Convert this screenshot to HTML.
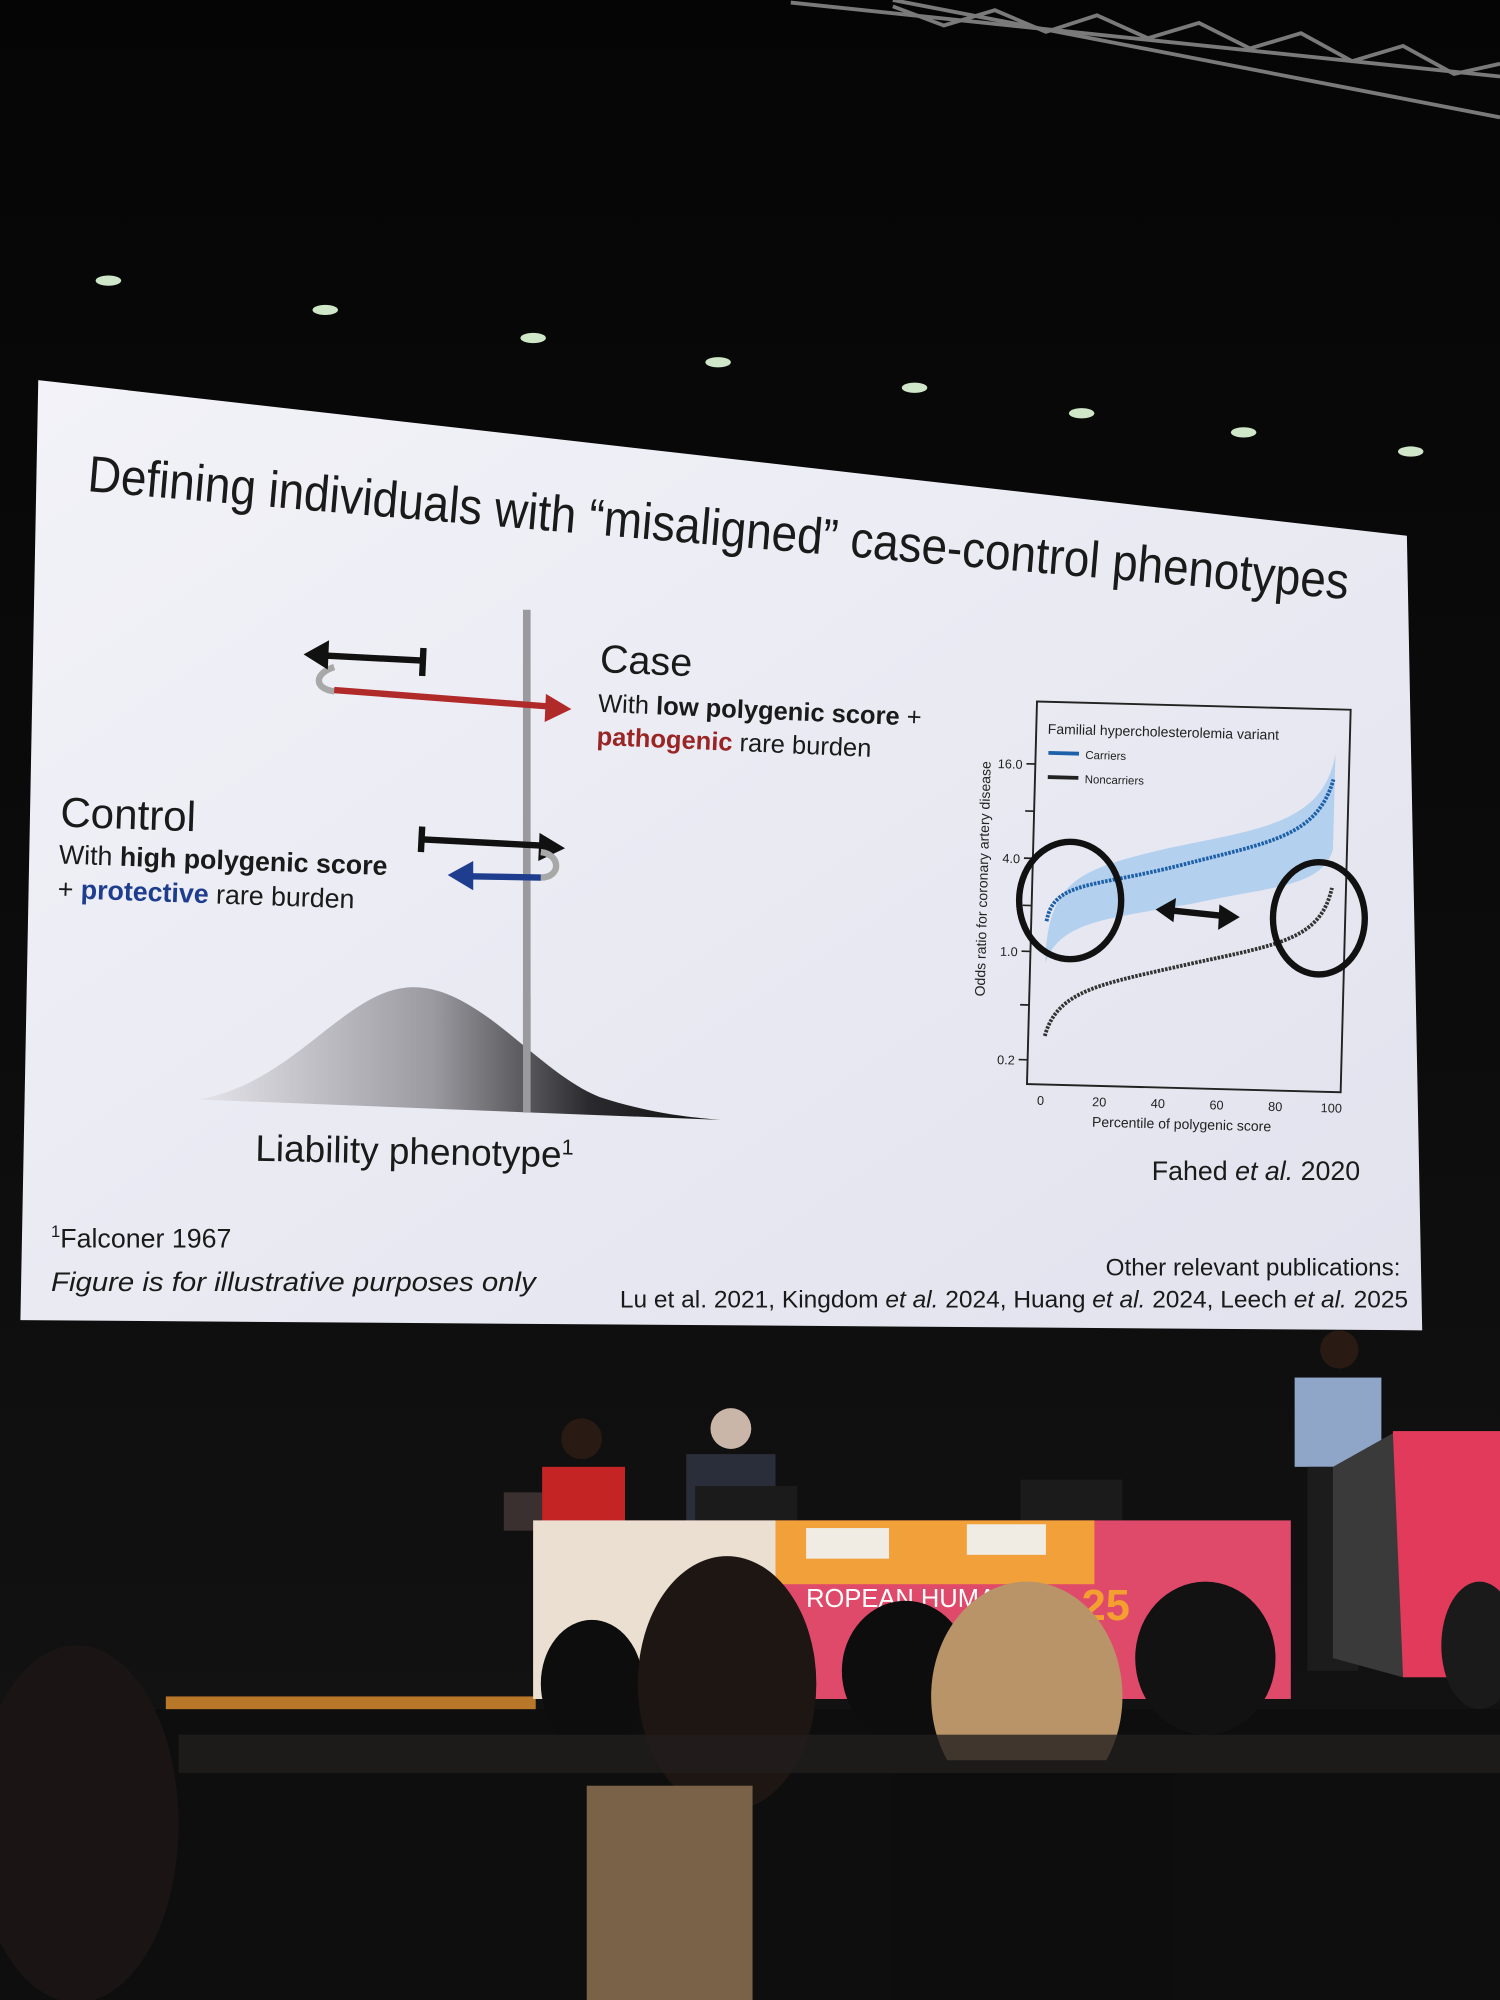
<!DOCTYPE html>
<html><head><meta charset="utf-8"><style>
html,body{margin:0;padding:0;background:#070707;}
svg{display:block;}
text{font-family:"Liberation Sans",sans-serif;}
</style></head><body>
<svg width="1500" height="2000" viewBox="0 0 1176 1568" preserveAspectRatio="none" xmlns="http://www.w3.org/2000/svg">
<defs>
<linearGradient id="bell" x1="0" x2="1" y1="0" y2="0">
<stop offset="0" stop-color="#e4e4ea"/><stop offset="0.45" stop-color="#9a9aa0"/><stop offset="0.75" stop-color="#2a2a2e"/><stop offset="1" stop-color="#111"/></linearGradient>
<linearGradient id="slide" x1="0" x2="1" y1="0" y2="1">
<stop offset="0" stop-color="#f2f2f8"/><stop offset="1" stop-color="#e2e2ee"/></linearGradient>
<linearGradient id="bg" x1="0" x2="0" y1="0" y2="1">
<stop offset="0" stop-color="#050505"/><stop offset="0.5" stop-color="#0c0c0c"/><stop offset="1" stop-color="#141414"/></linearGradient>
</defs>
<rect width="1176" height="1568" fill="url(#bg)"/>
<g stroke="#7a7a7a" stroke-width="3" fill="none">
<line x1="620" y1="2" x2="1176" y2="60"/><line x1="700" y1="0" x2="1176" y2="92"/>
<path d="M700 5 L740 20 L780 8 L820 25 L860 12 L900 30 L940 18 L980 38 L1020 26 L1060 48 L1100 36 L1140 58 L1176 50"/>
</g>
<g fill="#cfe6c8">
<ellipse cx="85" cy="220" rx="10" ry="4"/><ellipse cx="255" cy="243" rx="10" ry="4"/><ellipse cx="418" cy="265" rx="10" ry="4"/><ellipse cx="563" cy="284" rx="10" ry="4"/><ellipse cx="717" cy="304" rx="10" ry="4"/><ellipse cx="848" cy="324" rx="10" ry="4"/><ellipse cx="975" cy="339" rx="10" ry="4"/><ellipse cx="1106" cy="354" rx="10" ry="4"/>
</g>
<polygon points="30,298 1103,420 1115,1043 16,1035" fill="url(#slide)"/>
<text x="68" y="385" font-size="40" fill="#1a1a1a" transform="rotate(4.9 68 385)" textLength="992" lengthAdjust="spacingAndGlyphs">Defining individuals with “misaligned” case-control phenotypes</text>
<line x1="413" y1="478" x2="413" y2="872" stroke="#9a9a9e" stroke-width="6"/>
<path d="M155 862 C230 850 270 776 322 774 C375 772 420 840 470 860 C510 873 540 876 565 878 Z" fill="url(#bell)"/>
<line x1="413" y1="780" x2="413" y2="872" stroke="#9a9a9e" stroke-width="6"/>
<path d="M262 523 C246 528 246 540 262 542" stroke="#a8a8a8" stroke-width="5" fill="none"/>
<line x1="262" y1="541" x2="432" y2="554" stroke="#b02a2a" stroke-width="5"/>
<polygon points="448,556 428,544 427,566" fill="#b02a2a"/>
<line x1="255" y1="514" x2="333" y2="518" stroke="#111" stroke-width="5"/>
<polygon points="238,513 258,502 257,525" fill="#111"/>
<line x1="332" y1="508" x2="331" y2="530" stroke="#111" stroke-width="5"/>
<line x1="330" y1="658" x2="426" y2="663" stroke="#111" stroke-width="5"/>
<polygon points="443,665 423,653 422,675" fill="#111"/>
<line x1="331" y1="648" x2="330" y2="668" stroke="#111" stroke-width="5"/>
<path d="M424 668 C440 670 440 688 424 688" stroke="#a8a8a8" stroke-width="5" fill="none"/>
<line x1="368" y1="687" x2="424" y2="688" stroke="#1e3d8f" stroke-width="5"/>
<polygon points="351,686 371,675 371,698" fill="#1e3d8f"/>
<g transform="rotate(2.5 470 527)">
<text x="470" y="527" font-size="31" fill="#1a1a1a">Case</text>
<text x="470" y="558" font-size="20" fill="#1a1a1a">With <tspan font-weight="bold">low polygenic score</tspan> +</text>
<text x="470" y="584" font-size="20" fill="#1a1a1a"><tspan font-weight="bold" fill="#9a2525">pathogenic</tspan> rare burden</text>
</g>
<g transform="rotate(2 47 648)">
<text x="47" y="648" font-size="33" fill="#1a1a1a">Control</text>
<text x="47" y="677" font-size="21" fill="#1a1a1a">With <tspan font-weight="bold">high polygenic score</tspan></text>
<text x="47" y="704" font-size="21" fill="#1a1a1a">+ <tspan font-weight="bold" fill="#1e3d8f">protective</tspan> rare burden</text>
</g>
<text x="200" y="910" font-size="29" fill="#1a1a1a" transform="rotate(1.2 200 910)">Liability phenotype<tspan font-size="17" dy="-10">1</tspan></text>
<g transform="rotate(1.5 813 550)">
<rect x="813" y="550" width="246" height="300" fill="none" stroke="#222" stroke-width="1.5"/>
<path d="M825 745 C828 690 850 680 920 662 C990 645 1040 640 1048 585 L1048 660 C1040 690 1000 690 940 705 C880 718 835 720 825 755 Z" fill="#a9cdee" opacity="0.85"/>
<path d="M825 722 C830 690 860 695 930 675 C1000 655 1035 650 1047 605" stroke="#1d5fa8" stroke-width="3" fill="none" stroke-dasharray="2 1"/>
<path d="M826 812 C835 775 870 770 940 752 C1010 735 1040 730 1048 690" stroke="#333" stroke-width="3" fill="none" stroke-dasharray="2 1"/>
<text x="822" y="575" font-size="11" fill="#222">Familial hypercholesterolemia variant</text>
<line x1="823" y1="590" x2="847" y2="590" stroke="#1d5fa8" stroke-width="3"/><text x="852" y="594" font-size="9" fill="#222">Carriers</text>
<line x1="823" y1="609" x2="847" y2="609" stroke="#222" stroke-width="3"/><text x="852" y="613" font-size="9" fill="#222">Noncarriers</text>
<g font-size="10" fill="#222" text-anchor="end">
<text x="803" y="603">16.0</text><text x="803" y="677">4.0</text><text x="803" y="750">1.0</text><text x="803" y="835">0.2</text></g>
<g stroke="#222" stroke-width="1.3"><line x1="806" y1="599" x2="813" y2="599"/><line x1="806" y1="636" x2="813" y2="636"/><line x1="806" y1="673" x2="813" y2="673"/><line x1="806" y1="710" x2="813" y2="710"/><line x1="806" y1="746" x2="813" y2="746"/><line x1="806" y1="788" x2="813" y2="788"/><line x1="806" y1="831" x2="813" y2="831"/></g>
<g font-size="10" fill="#222" text-anchor="middle"><text x="824" y="866">0</text><text x="870" y="866">20</text><text x="916" y="866">40</text><text x="962" y="866">60</text><text x="1008" y="866">80</text><text x="1052" y="866">100</text></g>
<text x="935" y="882" font-size="11" fill="#222" text-anchor="middle">Percentile of polygenic score</text>
<text x="778" y="690" font-size="11" fill="#222" text-anchor="middle" transform="rotate(-90 778 690)">Odds ratio for coronary artery disease</text>
</g>
<ellipse cx="839" cy="706" rx="40" ry="46" fill="none" stroke="#111" stroke-width="5"/>
<ellipse cx="1034" cy="720" rx="36" ry="44" fill="none" stroke="#111" stroke-width="5"/>
<line x1="920" y1="714" x2="958" y2="718" stroke="#111" stroke-width="5"/>
<polygon points="906,713 922,704 920,723" fill="#111"/><polygon points="972,719 956,709 955,729" fill="#111"/>
<text x="903" y="925" font-size="21" fill="#1a1a1a">Fahed <tspan font-style="italic">et al.</tspan> 2020</text>
<text x="40" y="978" font-size="21" fill="#1a1a1a"><tspan font-size="13" dy="-8">1</tspan><tspan dy="8">Falconer 1967</tspan></text>
<text x="40" y="1012" font-size="21" fill="#1a1a1a" font-style="italic" textLength="380" lengthAdjust="spacingAndGlyphs">Figure is for illustrative purposes only</text>
<text x="1098" y="1000" font-size="19" fill="#1a1a1a" text-anchor="end">Other relevant publications:</text>
<text x="1104" y="1025" font-size="19" fill="#1a1a1a" text-anchor="end" textLength="618" lengthAdjust="spacingAndGlyphs">Lu et al. 2021, Kingdom <tspan font-style="italic">et al.</tspan> 2024, Huang <tspan font-style="italic">et al.</tspan> 2024, Leech <tspan font-style="italic">et al.</tspan> 2025</text>
<rect x="130" y="1330" width="290" height="12" fill="#b9772a"/>
<rect x="0" y="1340" width="1176" height="228" fill="#0e0e0e"/>
<rect x="395" y="1170" width="30" height="30" fill="#3a3030"/>
<rect x="425" y="1150" width="65" height="52" fill="#c42424"/>
<circle cx="456" cy="1128" r="16" fill="#2a1a14"/>
<rect x="538" y="1140" width="70" height="60" fill="#2a2e3a"/>
<circle cx="573" cy="1120" r="16" fill="#c9b6a8"/>
<rect x="545" y="1165" width="80" height="35" fill="#1b1b1b"/>
<rect x="800" y="1160" width="80" height="35" fill="#1b1b1b"/>
<rect x="418" y="1192" width="594" height="140" fill="#e04a6a"/>
<rect x="418" y="1192" width="190" height="140" fill="#eadfd0"/>
<rect x="608" y="1192" width="250" height="50" fill="#f2a03a"/>
<text x="632" y="1260" font-size="20" fill="#fff">ROPEAN HUMAN</text>
<text x="848" y="1270" font-size="34" fill="#f4a030" font-weight="bold">25</text>
<rect x="632" y="1198" width="65" height="24" fill="#f0ece4"/>
<rect x="758" y="1195" width="62" height="24" fill="#f0ece4"/>
<rect x="1015" y="1080" width="68" height="70" fill="#8fa6c8"/>
<circle cx="1050" cy="1058" r="15" fill="#2a1a14"/>
<rect x="1025" y="1150" width="40" height="160" fill="#1c1c1c"/>
<polygon points="1045,1150 1095,1122 1176,1122 1176,1315 1100,1315 1045,1300" fill="#3a3a3a"/>
<polygon points="1092,1122 1176,1122 1176,1315 1100,1315" fill="#e23a5a"/>
<ellipse cx="60" cy="1430" rx="80" ry="140" fill="#1a1514"/>
<ellipse cx="464" cy="1320" rx="40" ry="50" fill="#0d0d0d"/>
<ellipse cx="570" cy="1320" rx="70" ry="100" fill="#1e1612"/>
<ellipse cx="710" cy="1310" rx="50" ry="55" fill="#0d0d0d"/>
<ellipse cx="805" cy="1330" rx="75" ry="90" fill="#b89468"/>
<ellipse cx="945" cy="1300" rx="55" ry="60" fill="#121212"/>
<ellipse cx="1160" cy="1290" rx="30" ry="50" fill="#1a1a1a"/>
<rect x="460" y="1400" width="130" height="168" fill="#7a6248"/>
<rect x="700" y="1380" width="220" height="188" fill="#0d0d0d"/>
<rect x="140" y="1360" width="1036" height="30" fill="#221e1e" opacity="0.8"/>
</svg>
</body></html>
